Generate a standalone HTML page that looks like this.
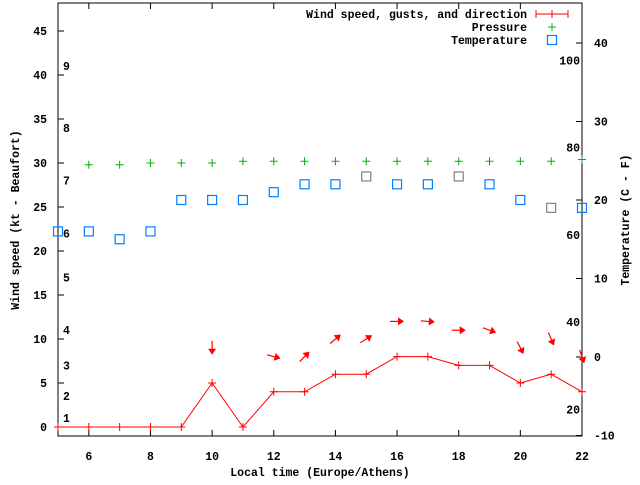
<!DOCTYPE html>
<html><head><meta charset="utf-8"><style>
body{margin:0;background:#fff}
svg text{font-family:"Liberation Mono",monospace;font-size:11.5px;font-weight:bold;fill:#000}
</style></head><body>
<svg id="c" width="640" height="480" xmlns="http://www.w3.org/2000/svg"></svg>
<script>
const hours=[5,6,7,8,9,10,11,12,13,14,15,16,17,18,19,20,21,22];
const windSpeed=[0,0,0,0,0,5,0,4,4,6,6,8,8,7,7,5,6,4];
const pressureHours=[6,7,8,9,10,11,12,13,14,15,16,17,18,19,20,21,22];
const pressure=[29.8,29.8,30,30,30,30.2,30.2,30.2,30.2,30.2,30.2,30.2,30.2,30.2,30.2,30.2,30.4];
const tempC=[16,16,15,16,20,20,20,21,22,22,23,22,22,23,22,20,19,19];
const tempGray=[0,0,0,0,0,0,0,0,0,0,1,0,0,1,0,0,1,0];
const arrowHours=[10,12,13,14,15,16,17,18,19,20,21,22];
const arrowDir=[90,15,-45,-40,-32,0,5,0,20,63,67,71];
const arrowSpeed=[5,4,4,6,6,8,8,7,7,5,6,4];
const xTicks=[6,8,10,12,14,16,18,20,22];
const yTicks=[0,5,10,15,20,25,30,35,40,45];
const y2Ticks=[-10,0,10,20,30,40];
const fTicks=[20,40,60,80,100];
const beaufortLabels=[1,2,3,4,5,6,7,8,9];
const beaufortKt=[1,3.5,7,11,17,22,28,34,41];

const L=58,R=582,T=3,B=436;
const X=h=>L+(h-5)*(R-L)/17;
const Y=v=>427-v*8.8;
const Y2=c=>357-c*7.85;
const NS="http://www.w3.org/2000/svg";
const svg=document.getElementById('c');
function mk(t,a,name,parent){const e=document.createElementNS(NS,t);for(const k in a)e.setAttribute(k,a[k]);


(parent||svg).appendChild(e);return e;}
function txt(x,y,s,anchor,name,extra){const e=mk('text',Object.assign({x:x,y:y,'text-anchor':anchor||'start'},extra||{}),name);e.textContent=s;return e;}

// frame
mk('rect',{x:L,y:T,width:R-L,height:B-T,fill:'none',stroke:'#000','stroke-width':1},'plot-frame');
xTicks.forEach(h=>{
  mk('line',{x1:X(h),y1:B,x2:X(h),y2:B-6,stroke:'#000'},'x-tick');
  mk('line',{x1:X(h),y1:T,x2:X(h),y2:T+6,stroke:'#000'},'x-tick-top');
  txt(X(h),460,String(h),'middle','x-tick-label');
});
yTicks.forEach(v=>{
  mk('line',{x1:L,y1:Y(v),x2:L+6,y2:Y(v),stroke:'#000'},'y-tick');
  txt(47,Y(v)+4,String(v),'end','y-tick-label');
});
y2Ticks.forEach(c=>{
  mk('line',{x1:R,y1:Y2(c),x2:R-6,y2:Y2(c),stroke:'#000'},'y2-tick');
  txt(594,Y2(c)+4,String(c),'start','y2-tick-label');
});
fTicks.forEach(f=>{
  txt(580,Y2((f-32)*5/9)+4,String(f),'end','fahrenheit-label');
});
beaufortLabels.forEach((b,i)=>{
  txt(63,Y(beaufortKt[i])+4,String(b),'start','beaufort-label');
});
txt(320,476,'Local time (Europe/Athens)','middle','x-axis-title');
txt(19,220,'Wind speed (kt - Beaufort)','middle','y-axis-title',{transform:'rotate(-90 19 220)'});
txt(629,220,'Temperature (C - F)','middle','y2-axis-title',{transform:'rotate(-90 629 220)'});

function plus(x,y,col,name){mk('path',{d:`M${x-4},${y}h8M${x},${y-4}v8`,stroke:col,'stroke-width':1},name);}
function sq(x,y,col,name){mk('rect',{x:x-4.5,y:y-4.5,width:9,height:9,fill:'none',stroke:col,'stroke-width':1.2},name);}

// temperature
hours.forEach((h,i)=>sq(X(h),Y2(tempC[i]),tempGray[i]?'#808080':'#0080ff','temperature-point'));
// pressure
pressureHours.forEach((h,i)=>plus(X(h),Y(pressure[i]),'#00b000','pressure-point'));
// wind
mk('polyline',{points:hours.map((h,i)=>X(h)+','+Y(windSpeed[i])).join(' '),fill:'none',stroke:'#f00','stroke-width':1},'wind-speed-line');
hours.forEach((h,i)=>plus(X(h),Y(windSpeed[i]),'#f00','wind-speed-point'));
// arrows
arrowHours.forEach((h,i)=>{
  const cx=X(h),cy=Y(arrowSpeed[i]+4);
  const g=mk('g',{transform:`translate(${cx},${cy}) rotate(${arrowDir[i]})`},'wind-direction-arrow');
  mk('line',{x1:-7,y1:0,x2:4,y2:0,stroke:'#f00','stroke-width':1.2},'arrow-shaft',g);
  mk('polygon',{points:'7,0 1,-4 1,4',fill:'#f00'},'arrow-head',g);
});
// legend
txt(527,18,'Wind speed, gusts, and direction','end','legend-wind-label');
mk('path',{d:'M536,14h32M536,10v8M568,10v8M552,10v8',stroke:'#f00','stroke-width':1},'legend-wind-marker');
txt(527,31,'Pressure','end','legend-pressure-label');
plus(552,27,'#00b000','legend-pressure-marker');
txt(527,44,'Temperature','end','legend-temperature-label');
sq(552,40,'#0080ff','legend-temperature-marker');
</script>
</body></html>
